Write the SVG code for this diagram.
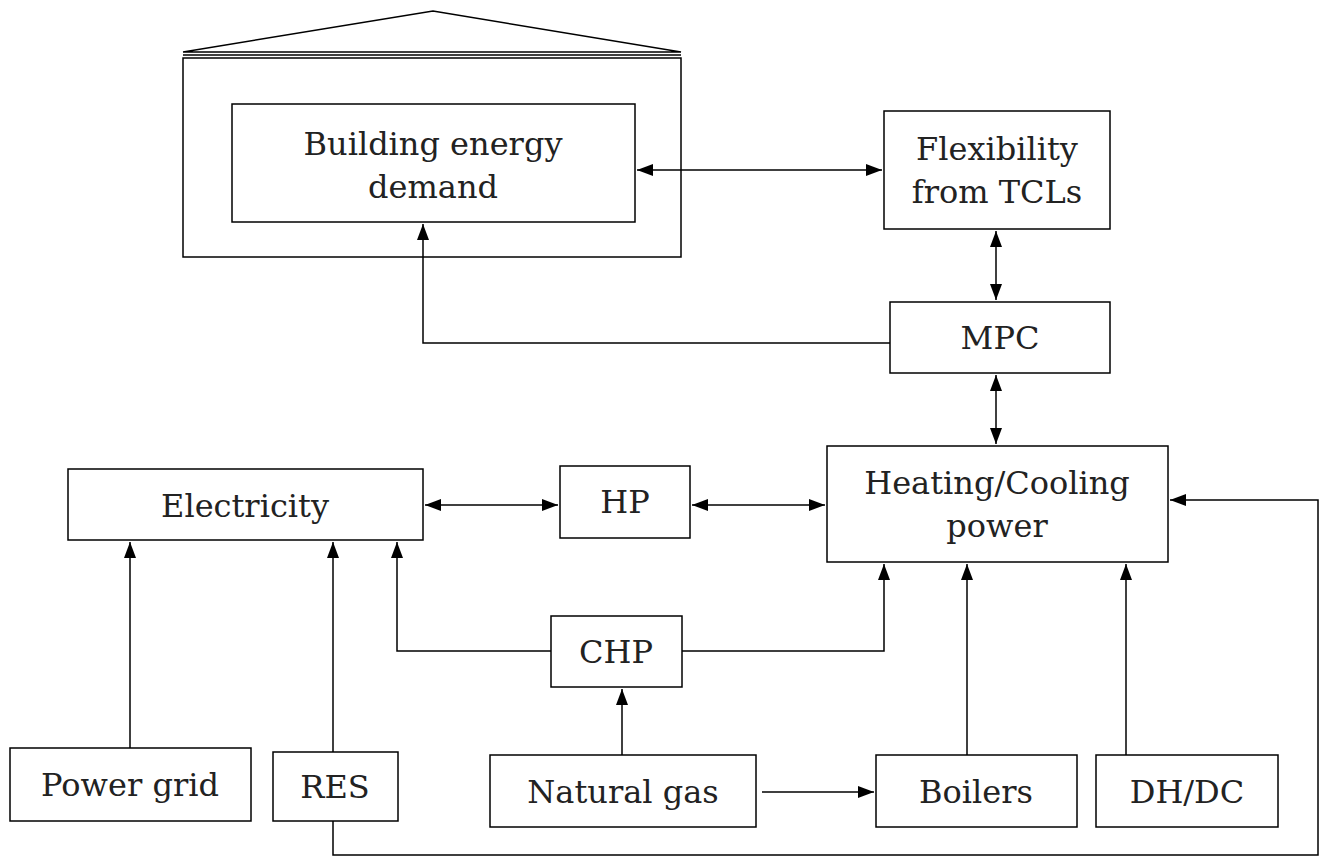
<svg xmlns="http://www.w3.org/2000/svg" width="1331" height="865" viewBox="0 0 1331 865">
<style>
.b{fill:#fff;stroke:#000;stroke-width:1.5}
.t{font-family:"DejaVu Serif","Liberation Serif",serif;font-size:32px;fill:#222;text-anchor:middle}
.c{fill:none;stroke:#000;stroke-width:1.5}
</style>
<defs>
<marker id="a" viewBox="0 0 16 12" refX="16" refY="6" markerWidth="16" markerHeight="12" markerUnits="userSpaceOnUse" orient="auto-start-reverse"><path d="M0,0L16,6L0,12z" fill="#000"/></marker>
</defs>
<rect width="1331" height="865" fill="#fff"/>
<g id="house">
<polyline class="c" points="183,52 433,11 681,52 183,52"/>
<line class="c" x1="183" y1="55" x2="681" y2="55"/>
<rect class="b" x="183" y="58" width="498" height="199"/>
</g>
<g id="building"><rect class="b" x="232" y="104" width="403" height="118"/><text class="t" x="433" y="155">Building energy</text><text class="t" x="433" y="198">demand</text></g>
<g id="flex"><rect class="b" x="884" y="111" width="226" height="118"/><text class="t" x="997" y="160">Flexibility</text><text class="t" x="997" y="203">from TCLs</text></g>
<g id="mpc"><rect class="b" x="890" y="302" width="220" height="71"/><text class="t" x="1000" y="349">MPC</text></g>
<g id="heat"><rect class="b" x="827" y="446" width="341" height="116"/><text class="t" x="997" y="494">Heating/Cooling</text><text class="t" x="997" y="537">power</text></g>
<g id="elec"><rect class="b" x="68" y="469" width="355" height="71"/><text class="t" x="245" y="517">Electricity</text></g>
<g id="hp"><rect class="b" x="560" y="466" width="130" height="72"/><text class="t" x="625" y="513">HP</text></g>
<g id="chp"><rect class="b" x="551" y="616" width="131" height="71"/><text class="t" x="616" y="663">CHP</text></g>
<g id="grid"><rect class="b" x="10" y="748" width="241" height="73"/><text class="t" x="130" y="796">Power grid</text></g>
<g id="res"><rect class="b" x="273" y="752" width="125" height="69"/><text class="t" x="335" y="798">RES</text></g>
<g id="gas"><rect class="b" x="490" y="755" width="266" height="72"/><text class="t" x="623" y="803">Natural gas</text></g>
<g id="boil"><rect class="b" x="876" y="755" width="201" height="72"/><text class="t" x="976" y="803">Boilers</text></g>
<g id="dh"><rect class="b" x="1096" y="755" width="182" height="72"/><text class="t" x="1187" y="803">DH/DC</text></g>
<g id="connectors">
<path class="c" d="M637,170H882" marker-start="url(#a)" marker-end="url(#a)"/>
<path class="c" d="M996,231V300" marker-start="url(#a)" marker-end="url(#a)"/>
<path class="c" d="M890,343H423V224" marker-end="url(#a)"/>
<path class="c" d="M996,375V444" marker-start="url(#a)" marker-end="url(#a)"/>
<path class="c" d="M425,505H558" marker-start="url(#a)" marker-end="url(#a)"/>
<path class="c" d="M692,505H825" marker-start="url(#a)" marker-end="url(#a)"/>
<path class="c" d="M130,748V542" marker-end="url(#a)"/>
<path class="c" d="M333,752V542" marker-end="url(#a)"/>
<path class="c" d="M333,821V855H1318V500H1170" marker-end="url(#a)"/>
<path class="c" d="M551,651H397V542" marker-end="url(#a)"/>
<path class="c" d="M682,651H884V564" marker-end="url(#a)"/>
<path class="c" d="M622,755V689" marker-end="url(#a)"/>
<path class="c" d="M762,792H874" marker-end="url(#a)"/>
<path class="c" d="M967,755V564" marker-end="url(#a)"/>
<path class="c" d="M1126,755V564" marker-end="url(#a)"/>
</g>
</svg>
